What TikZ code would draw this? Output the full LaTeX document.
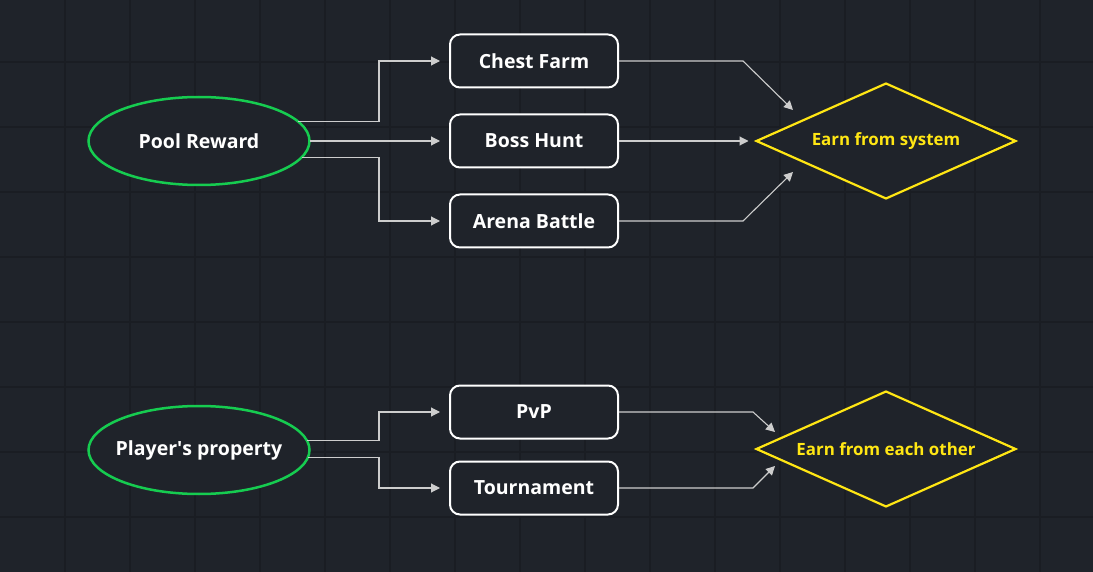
\documentclass[tikz,border=0pt]{standalone}
\usepackage{fontspec}
\setmainfont{Open Sans}
\usetikzlibrary{shapes.geometric,arrows.meta}

\definecolor{bgcol}{RGB}{31,35,42}
\definecolor{gridcol}{RGB}{26,29,35}
\definecolor{linkcol}{RGB}{205,205,205}
\definecolor{greencol}{RGB}{22,204,80}
\definecolor{yellowcol}{RGB}{255,230,20}

\tikzset{
    source/.style={ellipse,draw=greencol,line width=2.5pt,fill=bgcol,
        minimum width=221pt,minimum height=88pt,inner xsep=-6pt,inner ysep=0pt,outer sep=0pt,
        text=white,font=\bfseries\fontsize{19.5}{22}\selectfont},
    game/.style={rectangle,rounded corners=10pt,draw=white,line width=2pt,fill=bgcol,
        minimum width=168pt,minimum height=53pt,inner sep=0pt,outer sep=1pt,
        text=white,font=\bfseries\fontsize{19.5}{22}\selectfont},
    earn/.style={diamond,draw=yellowcol,line width=2.2pt,fill=bgcol,aspect=2.23,
        minimum width=259pt,minimum height=115pt,inner sep=0pt,outer sep=0pt,
        text=yellowcol,font=\bfseries\fontsize{16.9}{19}\selectfont},
    link/.style={draw=linkcol,line width=1.1pt,
        -{Triangle[length=9pt,width=9pt]}}
}

\begin{document}
\begin{tikzpicture}[x=1pt,y=-1pt]
    % background
    \fill[bgcol] (0,0) rectangle (1093,572);
    \useasboundingbox (0,0) rectangle (1093,572);
    \foreach \x in {65,130,...,1040}
        \draw[gridcol,line width=1.2pt] (\x,0) -- (\x,572);
    \foreach \y in {62,127,...,560}
        \draw[gridcol,line width=1.2pt] (0,\y) -- (1093,\y);

    % pool reward
    \node[source] (pool) at (199,141) {Pool Reward};
    \node[game] (chest) at (534,61) {Chest Farm};
    \node[game] (boss) at (534,141) {Boss Hunt};
    \node[game] (arena) at (534,221) {Arena Battle};
    \node[earn] (system) at (886,141) {Earn from system};

    \coordinate (sysin1) at (793,110);
    \coordinate (sysin3) at (793,172);

    \draw[link,shorten >=9pt] (pool.11) -| ([xshift=-70pt]chest.west) -- (chest.west);
    \draw[link,shorten >=9pt] (pool.east) -- (boss.west);
    \draw[link,shorten >=9pt] (pool.-9) -| ([xshift=-70pt]arena.west) -- (arena.west);
    \draw[link] (chest.east) -- ++(124,0) -- (sysin1);
    \draw[link,shorten >=8pt] (boss.east) -- (system.west);
    \draw[link] (arena.east) -- ++(124,0) -- (sysin3);

    % player's property
    \node[source] (player) at (199,450) {Player\textquotesingle s property};
    \node[game] (pvp) at (534,412) {PvP};
    \node[game] (tour) at (534,488) {Tournament};
    \node[earn] (other) at (886,449) {Earn from each other};

    \coordinate (othin1) at (775,432);
    \coordinate (othin2) at (775,466);

    \draw[link,shorten >=9pt] (player.5) -| ([xshift=-70pt]pvp.west) -- (pvp.west);
    \draw[link,shorten >=9pt] (player.-4) -| ([xshift=-70pt]tour.west) -- (tour.west);
    \draw[link] (pvp.east) -- ++(134,0) -- (othin1);
    \draw[link] (tour.east) -- ++(134,0) -- (othin2);
\end{tikzpicture}
\end{document}
